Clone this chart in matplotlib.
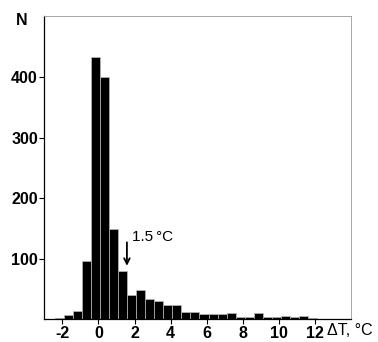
import numpy as np
import matplotlib
matplotlib.use('Agg')
import matplotlib.pyplot as plt

plt.rcParams['font.family'] = ['Liberation Sans', 'DejaVu Sans']

# histogram of temperature difference, bins of 0.5 degC
bin_left = np.arange(-2.4, 13.0, 0.5)
counts = [2, 8, 14, 97, 433, 401, 150, 80, 40, 48, 34, 30, 24, 24, 12, 12,
          9, 9, 9, 10, 4, 4, 10, 4, 4, 5, 4, 5, 2, 1, 1]
bin_width = 0.5
xticks = [-2, 0, 2, 4, 6, 8, 10, 12]
yticks = [100, 200, 300, 400]

fig = plt.figure(figsize=(3.78, 3.42), dpi=100)
ax = fig.add_axes([0.117, 0.066, 0.812, 0.888])

ax.bar(bin_left[:len(counts)], counts, width=bin_width, align='edge',
       color='black', edgecolor='#bbbbbb', linewidth=0.5)

ax.set_xlim(-3, 14)
ax.set_ylim(0, 502)
ax.set_xticks(xticks)
ax.set_yticks(yticks)
ax.set_xticklabels([str(t) for t in xticks], fontsize=11.5, fontweight='bold')
ax.set_yticklabels([str(t) for t in yticks], fontsize=11.5, fontweight='bold')
ax.tick_params(direction='out', length=3.5, width=0.8, pad=1)

for side in ['top', 'right']:
    ax.spines[side].set_color('#999999')
    ax.spines[side].set_linewidth(0.6)
for side in ['left', 'bottom']:
    ax.spines[side].set_linewidth(0.9)

# annotation for the 1.5 degC threshold
ax.annotate('', xy=(1.58, 84), xytext=(1.58, 132),
            arrowprops=dict(arrowstyle='->', color='black', lw=1.3))
ax.text(1.85, 136, '1.5\u2009°C', fontsize=11, ha='left', va='center')

fig.text(0.058, 0.94, 'N', fontsize=11.5, fontweight='bold', ha='center', va='center')
fig.text(0.866, 0.035, '\u0394T, °C', fontsize=11.5, ha='left', va='center')

fig.savefig('out.png', dpi=100)
